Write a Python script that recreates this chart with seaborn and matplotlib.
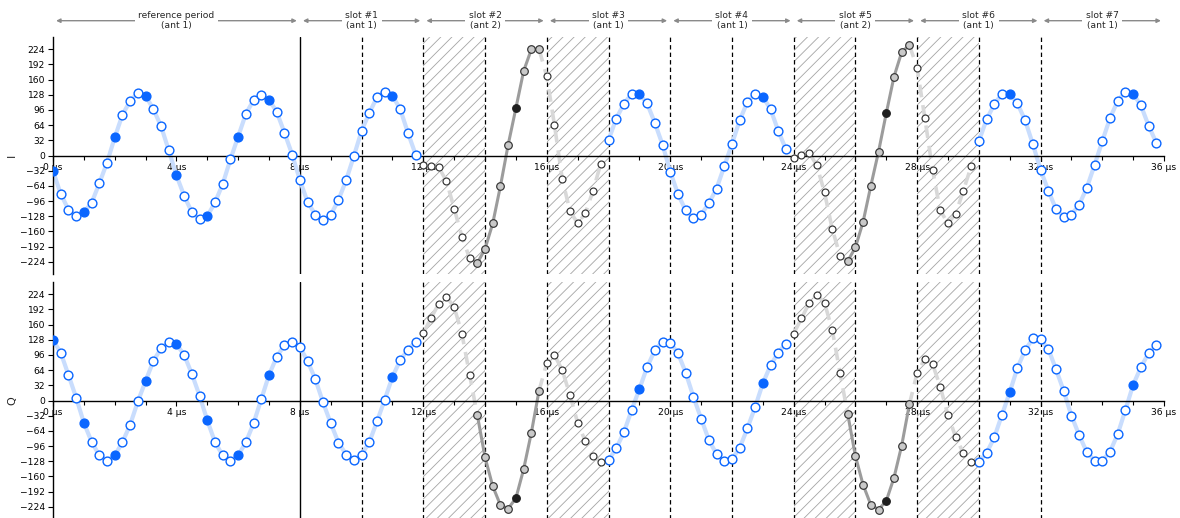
import numpy as np
import pandas as pd
import matplotlib
matplotlib.use("Agg")
import matplotlib.pyplot as plt
import seaborn as sns

# IQ samples, one every 0.25 us, 16 samples per row (4 us)
SAMPLE_PERIOD_US = 0.25
I_SAMPLES = [
    -33, -81, -114, -127, -120, -100, -59, -15, 38, 86, 115, 132, 126, 98, 62, 11,
    -42, -85, -120, -135, -128, -99, -60, -8, 40, 88, 117, 128, 118, 92, 48, 2,
    -52, -98, -125, -136, -125, -94, -52, -1, 52, 90, 123, 135, 126, 98, 48, 2,
    -19, -23, -25, -54, -112, -171, -217, -227, -197, -143, -64, 23, 100, 178, 224, 224,
    167, 64, -49, -117, -143, -122, -74, -17, 32, 78, 109, 130, 130, 110, 69, 23,
    -34, -81, -116, -132, -125, -101, -70, -23, 24, 74, 113, 130, 124, 98, 52, 13,
    -6, 1, 6, -21, -78, -155, -211, -223, -194, -140, -64, 8, 89, 166, 218, 233,
    185, 79, -30, -116, -143, -123, -74, -23, 30, 76, 108, 130, 130, 110, 74, 24,
    -30, -74, -113, -129, -125, -104, -68, -20, 30, 79, 115, 135, 130, 106, 63, 27,
]
Q_SAMPLES = [
    127, 101, 54, 6, -47, -87, -116, -127, -116, -88, -51, -2, 41, 83, 110, 124,
    119, 96, 56, 10, -42, -88, -116, -127, -116, -88, -48, 3, 54, 92, 117, 124,
    113, 83, 45, -4, -48, -89, -114, -125, -114, -88, -44, 2, 50, 85, 107, 124,
    142, 174, 204, 219, 197, 141, 54, -31, -120, -181, -221, -228, -206, -145, -68, 21,
    79, 96, 64, 12, -47, -86, -118, -129, -126, -101, -67, -20, 24, 70, 106, 124,
    122, 100, 59, 8, -38, -83, -113, -128, -124, -100, -59, -14, 36, 74, 101, 120,
    141, 173, 205, 223, 206, 149, 59, -28, -117, -178, -220, -230, -212, -163, -95, -8,
    58, 88, 77, 29, -31, -77, -111, -129, -129, -111, -78, -30, 17, 69, 106, 131,
    129, 109, 66, 20, -32, -73, -109, -127, -127, -108, -71, -20, 33, 70, 100, 117,
]

# timing of the packet: reference period followed by 4 us switch slots
PERIOD_BOUNDS_US = [0, 8, 12, 16, 20, 24, 28, 32, 36]
PERIOD_LABELS = ["reference period\n(ant 1)", "slot #1\n(ant 1)", "slot #2\n(ant 2)",
                 "slot #3\n(ant 1)", "slot #4\n(ant 1)", "slot #5\n(ant 2)",
                 "slot #6\n(ant 1)", "slot #7\n(ant 1)"]
SWITCH_WINDOWS_US = [(12, 14), (16, 18), (24, 26), (28, 30)]
ANT2_SPANS_US = [(13.75, 15.75), (25.75, 27.75)]
SLOT_MARKS_US = [10, 12, 14, 16, 18, 20, 22, 24, 26, 28, 30, 32]
PICKED_SAMPLES_US = [0, 1, 2, 3, 4, 5, 6, 7, 11, 15, 19, 23, 27, 31, 35]

BLUE = "#0a66ff"
BLUE_LINE = "#c9ddfd"
ANT2_LINE = "#9c9c9c"
SWITCH_LINE = "#d8d8d8"
DARK_EDGE = "#333333"
FS = 6.6

sns.set_style("ticks")
plt.rcParams["font.family"] = ["DejaVu Sans"]
plt.rcParams["hatch.linewidth"] = 0.6

t = np.arange(len(I_SAMPLES)) * SAMPLE_PERIOD_US


def kind_of(x):
    if any(a - 1e-9 <= x <= b + 1e-9 for a, b in ANT2_SPANS_US):
        return "ant2"
    if any(a - 1e-9 <= x < b - 1e-9 for a, b in SWITCH_WINDOWS_US):
        return "switch"
    return "ant1"


df = pd.DataFrame({"t": t, "I": I_SAMPLES, "Q": Q_SAMPLES})
df["kind"] = [kind_of(x) for x in t]
df["picked"] = [any(abs(x - p) < 1e-9 for p in PICKED_SAMPLES_US) for x in t]

# contiguous runs of the same kind
runs = []
start = 0
for k in range(1, len(df) + 1):
    if k == len(df) or df.kind[k] != df.kind[start]:
        runs.append((df.kind[start], start, k - 1))
        start = k

fig = plt.figure(figsize=(11.8, 5.18), dpi=100)
W, H = 1180, 518
left, right = 53 / W, 1164 / W
ax_i = fig.add_axes([left, 1 - 274 / H, right - left, 237 / H])
ax_q = fig.add_axes([left, 1 - 519 / H, right - left, 237 / H])

for ax, col, name in [(ax_i, "I", "I"), (ax_q, "Q", "Q")]:
    # switching windows
    for a, b in SWITCH_WINDOWS_US:
        ax.axvspan(a, b, facecolor="none", edgecolor="#a4a4a4", hatch="///",
                   linewidth=0, zorder=0)
    ax.axvline(8, color="black", lw=1.0, zorder=1)
    for x in SLOT_MARKS_US:
        ax.axvline(x, color="black", lw=0.9, ls=(0, (3.5, 2.5)), zorder=1)

    # connecting lines
    for kind, s, e in runs:
        if kind == "ant1":
            seg = df.iloc[s:e + 1]
            sns.lineplot(x=seg.t.values, y=seg[col].values, ax=ax, color=BLUE_LINE,
                         lw=3.0, estimator=None, sort=False, zorder=2)
        elif kind == "ant2":
            seg = df.iloc[s:e + 1]
            sns.lineplot(x=seg.t.values, y=seg[col].values, ax=ax, color=ANT2_LINE,
                         lw=2.2, estimator=None, sort=False, zorder=2)
        else:
            s2 = s - 1 if s > 0 and df.kind[s - 1] == "ant2" else s
            e2 = e + 1 if e + 1 < len(df) and df.kind[e + 1] == "ant2" else e
            seg = df.iloc[s2:e2 + 1]
            sns.lineplot(x=seg.t.values, y=seg[col].values, ax=ax, color=SWITCH_LINE,
                         lw=2.6, ls=(0, (3.5, 2.2)), estimator=None, sort=False,
                         zorder=2)

    # sample markers
    a1 = df[(df.kind == "ant1") & ~df.picked]
    a1p = df[(df.kind == "ant1") & df.picked]
    sw = df[df.kind == "switch"]
    a2 = df[(df.kind == "ant2") & ~df.picked]
    a2p = df[(df.kind == "ant2") & df.picked]
    sns.scatterplot(x=a1.t.values, y=a1[col].values, ax=ax, color="white",
                    edgecolor=BLUE, linewidth=1.0, s=40, zorder=4)
    sns.scatterplot(x=a1p.t.values, y=a1p[col].values, ax=ax, color=BLUE,
                    edgecolor=BLUE, linewidth=1.0, s=40, zorder=4)
    sns.scatterplot(x=sw.t.values, y=sw[col].values, ax=ax, color="white",
                    edgecolor=DARK_EDGE, linewidth=0.85, s=25, zorder=4)
    sns.scatterplot(x=a2.t.values, y=a2[col].values, ax=ax, color="#c9c9c9",
                    edgecolor=DARK_EDGE, linewidth=0.85, s=30, zorder=4)
    sns.scatterplot(x=a2p.t.values, y=a2p[col].values, ax=ax, color="#1e1e1e",
                    edgecolor="#1e1e1e", linewidth=0.85, s=30, zorder=4)

    ax.set_xlim(0, 36)
    ax.set_ylim(-250, 250)
    ax.spines["left"].set_position(("data", 0))
    ax.spines["bottom"].set_position(("data", 0))
    ax.spines["top"].set_visible(False)
    ax.spines["right"].set_visible(False)
    for sp in ("left", "bottom"):
        ax.spines[sp].set_color("black")
        ax.spines[sp].set_linewidth(1.0)
    ax.set_yticks(np.arange(-224, 225, 32))
    ax.set_xticks(np.arange(0, 37, 4))
    ax.set_xticks(np.arange(0, 37, 1), minor=True)
    ax.set_xticklabels([f"{v} µs" for v in range(0, 37, 4)])
    ax.tick_params(axis="both", which="major", labelsize=FS, length=3.5,
                   width=0.8, colors="black", pad=2)
    ax.tick_params(axis="x", which="minor", length=3, width=0.8, colors="black")
    ax.set_xlabel("")
    ax.set_ylabel(name, fontsize=8)
    ax.yaxis.set_label_coords(-36 / 1111, 0.5)

# period headers with arrows
arrow_y = (274 - 20.7) / 237
for (a, b), label in zip(zip(PERIOD_BOUNDS_US[:-1], PERIOD_BOUNDS_US[1:]), PERIOD_LABELS):
    ax_i.annotate("", xy=(a + 0.1, arrow_y), xytext=(b - 0.1, arrow_y),
                  xycoords=("data", "axes fraction"), textcoords=("data", "axes fraction"),
                  arrowprops=dict(arrowstyle="<|-|>", color="#8a8a8a", lw=1.0,
                                  shrinkA=0, shrinkB=0, mutation_scale=6),
                  annotation_clip=False)
    ax_i.text((a + b) / 2, arrow_y, label, transform=ax_i.get_xaxis_transform(),
              ha="center", va="center", fontsize=FS, linespacing=1.15,
              bbox=dict(facecolor="white", edgecolor="none", pad=2.5), zorder=5)

fig.savefig("out.png", dpi=100)
